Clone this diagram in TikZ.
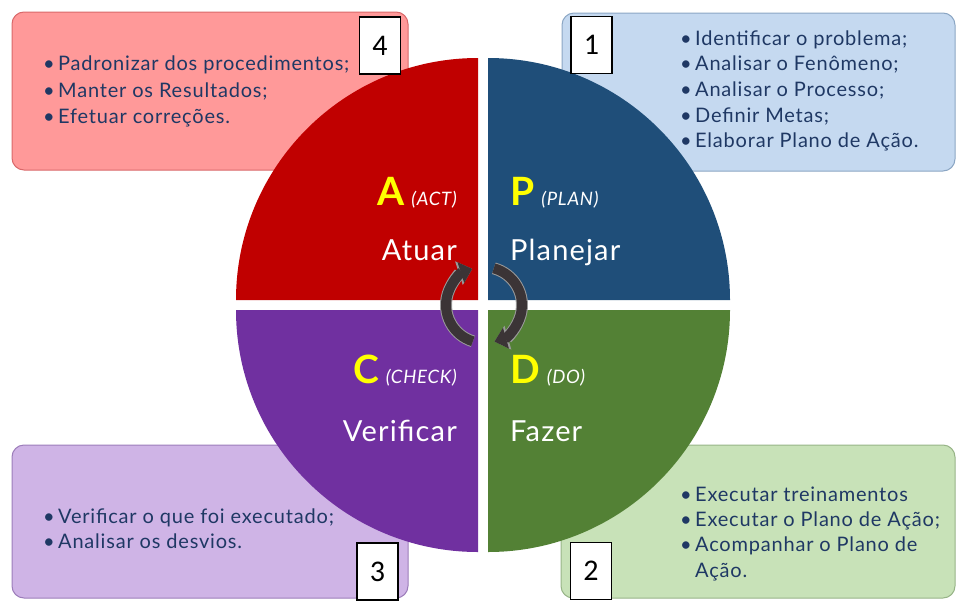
\documentclass[tikz,border=0pt]{standalone}
\usepackage{fontspec}
\setmainfont{Lato}[LetterSpace=4]
\newfontfamily\numfont{Carlito}
\usetikzlibrary{arrows.meta}

\definecolor{actred}{HTML}{C00000}
\definecolor{planblue}{HTML}{1F4E79}
\definecolor{dogreen}{HTML}{538135}
\definecolor{checkpurple}{HTML}{7030A0}
\definecolor{pinkbox}{HTML}{FF9999}
\definecolor{pinkedge}{HTML}{D9686A}
\definecolor{bluebox}{HTML}{C5D9F0}
\definecolor{blueedge}{HTML}{8BA6C4}
\definecolor{purplebox}{HTML}{CFB4E6}
\definecolor{purpleedge}{HTML}{9C7DBA}
\definecolor{greenbox}{HTML}{C8E2B8}
\definecolor{greenedge}{HTML}{97B487}
\definecolor{navytext}{HTML}{1F3864}
\definecolor{arrowgray}{HTML}{3B3436}
\definecolor{arrowedge}{HTML}{9A9A9A}
\definecolor{pdcayellow}{HTML}{FFFF00}

\newcommand{\itm}{\makebox[15pt][l]{\textbullet}}
\newcommand{\letter}[1]{{\color{pdcayellow}\bfseries\fontsize{39}{39}\selectfont #1}}
\newcommand{\engl}[1]{{\itshape\fontsize{18.5}{18.5}\selectfont(#1)}}

\begin{document}
\begin{tikzpicture}[x=1pt,y=-1pt,
  infobox/.style={rounded corners=12pt,line width=1pt},
  item/.style={anchor=base west,inner sep=0pt,text=navytext,font=\fontsize{20}{23}\selectfont},
  numbox/.style={draw=black,fill=white,line width=1.2pt,inner sep=0pt,
    minimum width=41pt,minimum height=57pt,font=\numfont\fontsize{30}{30}\selectfont},
  quadtext/.style={inner sep=0pt,text=white,font=\fontsize{29}{30}\selectfont},
  cycleedge/.style={line width=12pt,arrowedge,-{Triangle[length=14pt,width=24pt]}},
  cyclearrow/.style={line width=10pt,arrowgray,-{Triangle[length=12pt,width=21pt]}}
]
\useasboundingbox (0,0) rectangle (956,600);

% boxes behind the circle
\draw[infobox,fill=pinkbox,draw=pinkedge] (12,12) rectangle (408,170);
\draw[infobox,fill=bluebox,draw=blueedge] (562,13) rectangle (955,171);
\draw[infobox,fill=purplebox,draw=purpleedge] (12,445) rectangle (408,598);
\draw[infobox,fill=greenbox,draw=greenedge] (561,445) rectangle (955,598);

% lists in the boxes
\foreach \t [count=\i] in {\itm Padronizar dos procedimentos;, \itm Manter os Resultados;, \itm Efetuar correções.}
  \node[item] (act\i) at (43,44.4+26.3*\i) {\t};
\foreach \t [count=\i] in {\itm Identificar o problema;, \itm Analisar o Fenômeno;, \itm Analisar o Processo;, \itm Definir Metas;, \itm Elaborar Plano de Ação.}
  \node[item] (plan\i) at (680,19.3+25.7*\i) {\t};
\foreach \t [count=\i] in {\itm Verificar o que foi executado;, \itm Analisar os desvios.}
  \node[item] (check\i) at (43,498+25*\i) {\t};
\foreach \t [count=\i] in {\itm Executar treinamentos, \itm Executar o Plano de Ação;, \itm Acompanhar o Plano de, \makebox[15pt]{}Ação.}
  \node[item] (do\i) at (680,476+25.3*\i) {\t};

% quarters of the circle
\fill[planblue] (488,300) -- (730,300) arc[start angle=0,end angle=-90,radius=242] -- cycle;
\fill[dogreen] (488,310) -- (730,310) arc[start angle=0,end angle=90,radius=242] -- cycle;
\fill[checkpurple] (478,310) -- (478,552) arc[start angle=90,end angle=180,radius=242] -- cycle;
\fill[actred] (478,300) -- (236,300) arc[start angle=180,end angle=270,radius=242] -- cycle;

% labels of the quarters
\node[quadtext,anchor=base west] (plan) at (510,205) {\letter{P}\hspace{7pt}\engl{PLAN}};
\node[quadtext,anchor=base west] (planejar) at (510,260) {Planejar};
\node[quadtext,anchor=base east] (act) at (457,205) {\letter{A}\hspace{7pt}\engl{ACT}};
\node[quadtext,anchor=base east] (atuar) at (457,260) {Atuar};
\node[quadtext,anchor=base east] (check) at (457,383) {\letter{C}\hspace{7pt}\engl{CHECK}};
\node[quadtext,anchor=base east] (verificar) at (457,441) {Verificar};
\node[quadtext,anchor=base west] (do) at (510,383) {\letter{D}\hspace{7pt}\engl{DO}};
\node[quadtext,anchor=base west] (fazer) at (510,441) {Fazer};

% arrows of the cycle
\draw[cycleedge] (472.9,341.3) arc[start angle=107,end angle=252,radius=38];
\draw[cyclearrow] (472.9,341.3) arc[start angle=107,end angle=252,radius=38];
\draw[cycleedge] (493.8,268.3) arc[start angle=-75,end angle=74,radius=38];
\draw[cyclearrow] (493.8,268.3) arc[start angle=-75,end angle=74,radius=38];

% step numbers
\node[numbox] (n1) at (591.5,45) {1};
\node[numbox] (n2) at (591,571) {2};
\node[numbox] (n3) at (377.5,571.5) {3};
\node[numbox] (n4) at (380,45.5) {4};
\end{tikzpicture}
\end{document}
